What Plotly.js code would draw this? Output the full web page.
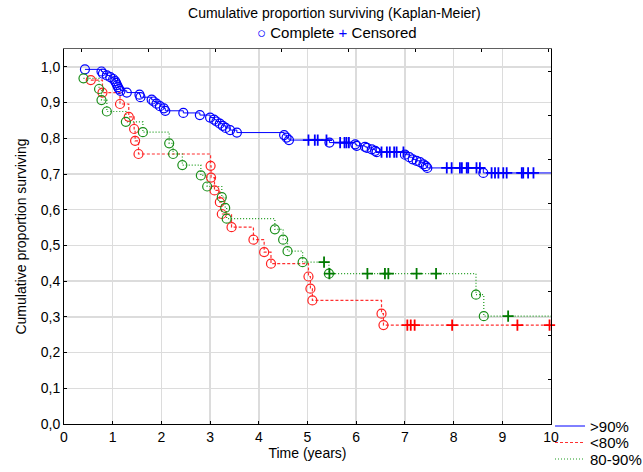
<!DOCTYPE html>
<html>
<head>
<meta charset="utf-8">
<script src="https://cdn.plot.ly/plotly-3.0.1.min.js"></script>
<style>html,body{margin:0;padding:0;background:#fff;}</style>
</head>
<body>
<div id="chart" style="width:643px;height:472px;"></div>
<script>
// ---- Data ----
// >90% group: event times (years) and survival after each event
const blueT = [0.43,0.77,0.80,0.88,0.95,1.01,1.05,1.07,1.09,1.11,1.13,1.16,1.29,1.55,1.57,1.80,1.84,1.90,1.97,2.05,2.08,2.45,2.79,3.00,3.08,3.13,3.20,3.26,3.32,3.41,3.55,4.52,4.57,4.62,5.45,5.98,6.01,6.18,6.22,6.32,6.39,6.42,7.00,7.09,7.16,7.24,7.31,7.38,7.43,7.46,8.61];
const blueS = [0.993,0.987,0.981,0.976,0.971,0.966,0.960,0.955,0.949,0.943,0.938,0.933,0.928,0.922,0.915,0.908,0.903,0.897,0.890,0.884,0.877,0.871,0.865,0.858,0.852,0.847,0.841,0.835,0.829,0.823,0.816,0.809,0.802,0.795,0.788,0.783,0.779,0.776,0.773,0.769,0.765,0.761,0.754,0.747,0.741,0.737,0.733,0.727,0.722,0.717,0.703];
const blueCens = [5.02,5.15,5.21,5.39,5.67,5.76,5.80,5.85,6.52,6.63,6.69,6.78,6.83,6.97,7.86,7.96,8.13,8.17,8.27,8.30,8.47,8.54,8.78,8.85,8.92,9.02,9.09,9.40,9.43,9.53,9.64];

// <80% group
const redT = [0.55,0.79,1.15,1.33,1.44,1.46,1.53,3.01,3.02,3.09,3.20,3.24,3.44,3.89,4.11,4.25,5.02,5.06,5.10,6.52,6.56];
const redS = [0.963,0.928,0.896,0.860,0.826,0.793,0.756,0.723,0.690,0.654,0.621,0.588,0.551,0.516,0.481,0.449,0.413,0.379,0.346,0.309,0.277];
const redCens = [7.05,7.12,7.20,7.97,9.31,9.97];

// 80-90% group
const greenT = [0.40,0.72,0.77,0.88,1.27,1.62,2.16,2.24,2.43,2.81,2.94,3.24,3.31,3.34,4.33,4.50,4.59,4.90,5.44,8.46,8.62];
const greenS = [0.968,0.938,0.907,0.875,0.846,0.817,0.786,0.756,0.725,0.696,0.665,0.635,0.605,0.575,0.545,0.516,0.484,0.453,0.421,0.362,0.302];
const greenCens = [5.34,5.45,6.23,6.59,6.66,7.24,7.64,9.12];

const groupNames = ['>90%','<80%','80-90%'];
const xTicks = [0,1,2,3,4,5,6,7,8,9,10];
const yTicks = [0,0.1,0.2,0.3,0.4,0.5,0.6,0.7,0.8,0.9,1.0];
const tMax = 10;

// ---- helpers ----
function survAt(T,S,t){ let s=1; for(let i=0;i<T.length;i++){ if(T[i]<=t) s=S[i]; } return s; }

const groups = [
  {T:blueT,S:blueS,C:blueCens,name:groupNames[0],leg:'legend', line:{color:'#0000ff',width:1,dash:'solid'},mk:'#0000ff',ck:'#0000ff'},
  {T:redT,S:redS,C:redCens,name:groupNames[1],leg:'legend2',line:{color:'#ff3030',width:1.2,dash:'3px,2px'},mk:'#ff2020',ck:'#ff0000'},
  {T:greenT,S:greenS,C:greenCens,name:groupNames[2],leg:'legend3',line:{color:'#1a9a1a',width:1.2,dash:'1px,2px'},mk:'#1a8f1a',ck:'#007a00'}
];

const traces = [];
groups.forEach(g=>{
  traces.push({
    x: g.T.concat([tMax]), y: g.S.concat([g.S[g.S.length-1]]),
    type:'scatter', mode:'lines', line:Object.assign({shape:'hv'},g.line),
    name:g.name, showlegend:true, legend:g.leg, hoverinfo:'skip'
  });
});
groups.forEach(g=>{
  traces.push({
    x: g.T, y: g.S, type:'scatter', mode:'markers',
    marker:{symbol:'circle-open', size:9, color:g.mk, line:{width:1.2, color:g.mk}},
    showlegend:false, hoverinfo:'skip', cliponaxis:false
  });
  traces.push({
    x: g.C, y: g.C.map(t=>survAt(g.T,g.S,t)), type:'scatter', mode:'markers',
    marker:{symbol:'cross-thin-open', size:8, color:g.ck, line:{width:1.8, color:g.ck}},
    showlegend:false, hoverinfo:'skip', cliponaxis:false
  });
});
// dummy trace to activate the mirrored axes (top/right)
traces.push({x:[null],y:[null],xaxis:'x2',yaxis:'y2',type:'scatter',mode:'markers',showlegend:false,hoverinfo:'skip'});

const topTicks = [0,1,2,3,4,5,6,7].map(k=>0.363+1.37*k);
const rightTicks = [0,1,2,3,4,5,6,7,8].map(k=>0.986-0.1229*k);

function leg(yc){
  return {x:0.998, xanchor:'left', y:yc, yanchor:'middle', bgcolor:'rgba(0,0,0,0)', font:{size:15}, itemwidth:30, borderwidth:0};
}

const layout = {
  width:643, height:472,
  margin:{l:64, r:92, t:49, b:48, autoexpand:false},
  paper_bgcolor:'#ffffff', plot_bgcolor:'#ffffff',
  separators:', ',
  font:{family:'"Liberation Sans", Arial, sans-serif', size:14, color:'#000'},
  title:{text:'Cumulative proportion surviving (Kaplan-Meier)', x:0.52, xanchor:'center', y:0.972, yanchor:'middle', yref:'container', font:{size:14}},
  annotations:[{
    xref:'paper', yref:'paper', x:0.56, y:1.045, xanchor:'center', yanchor:'middle', showarrow:false,
    text:'<span style="color:#0000ff">○</span> Complete <span style="color:#0000ff">+</span> Censored',
    font:{size:15}
  }],
  xaxis:{range:[0,10], tickvals:xTicks, ticktext:xTicks.map(String), ticks:'inside', ticklen:3, tickcolor:'#000',
    showgrid:true, gridcolor:'#dcdcdc', gridwidth:1.5, showline:true, linecolor:'#000', linewidth:1, zeroline:false,
    title:{text:'Time (years)', standoff:4, font:{size:14}}, tickfont:{size:14}},
  yaxis:{range:[0,1.05], tickvals:yTicks, tickformat:'.1f', ticks:'inside', ticklen:3, tickcolor:'#000',
    showgrid:true, gridcolor:'#dcdcdc', gridwidth:1.5, showline:true, linecolor:'#000', linewidth:1, zeroline:false,
    title:{text:'Cumulative proportion surviving', standoff:10, font:{size:14}}, tickfont:{size:14}},
  xaxis2:{overlaying:'x', side:'top', range:[0,10], tickvals:topTicks, ticks:'inside', ticklen:3, tickcolor:'#000',
    showticklabels:false, showgrid:false, showline:true, linecolor:'#606060', linewidth:1.5, zeroline:false},
  yaxis2:{overlaying:'y', side:'right', range:[0,1.05], tickvals:rightTicks, ticks:'inside', ticklen:3, tickcolor:'#000',
    showticklabels:false, showgrid:false, showline:true, linecolor:'#000', linewidth:1, zeroline:false},
  legend: leg(-0.006),
  legend2: leg(-0.050),
  legend3: leg(-0.094),
  showlegend:true
};

Plotly.newPlot('chart', traces, layout, {displayModeBar:false, staticPlot:true});
</script>
</body>
</html>
